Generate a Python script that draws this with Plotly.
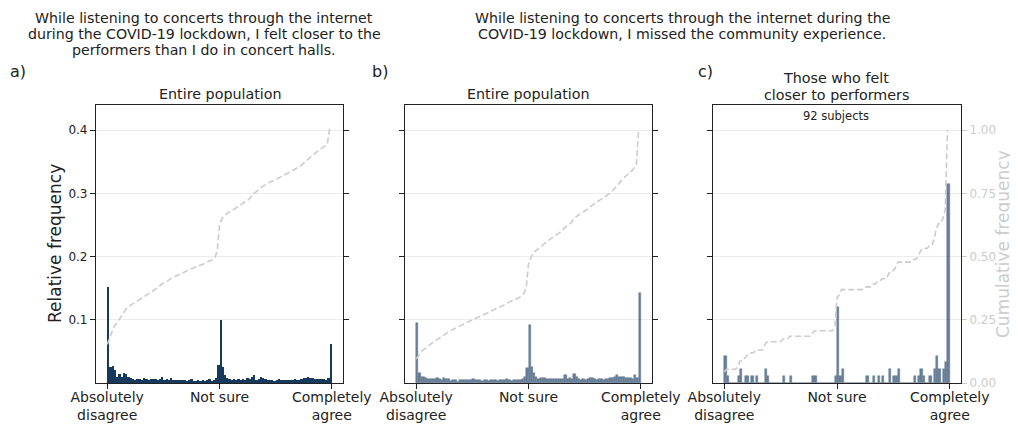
import numpy as np
import plotly.graph_objects as go

# ---------------- data ----------------
bin_edges = list(range(0, 101))  # 100 bins of width 1 on a 0-100 slider

panel_a_freq = [
    0.152, 0.025, 0.027, 0.020, 0.010, 0.014, 0.010, 0.016, 0.014, 0.010,
    0.008, 0.006, 0.004, 0.006, 0.006, 0.005, 0.008, 0.006, 0.004, 0.006,
    0.007, 0.006, 0.004, 0.006, 0.010, 0.004, 0.006, 0.004, 0.008, 0.005,
    0.004, 0.004, 0.004, 0.004, 0.005, 0.003, 0.004, 0.006, 0.003, 0.003,
    0.004, 0.003, 0.005, 0.002, 0.004, 0.006, 0.003, 0.004, 0.008, 0.028,
    0.100, 0.025, 0.012, 0.008, 0.006, 0.004, 0.006, 0.005, 0.007, 0.004,
    0.006, 0.005, 0.008, 0.006, 0.010, 0.013, 0.005, 0.006, 0.009, 0.008,
    0.006, 0.005, 0.004, 0.005, 0.003, 0.004, 0.006, 0.004, 0.005, 0.004,
    0.004, 0.005, 0.005, 0.006, 0.005, 0.004, 0.006, 0.008, 0.008, 0.009,
    0.008, 0.008, 0.007, 0.007, 0.007, 0.006, 0.006, 0.004, 0.008, 0.062,
]

panel_b_freq = [
    0.095, 0.016, 0.010, 0.009, 0.008, 0.006, 0.007, 0.007, 0.006, 0.008,
    0.006, 0.005, 0.008, 0.006, 0.006, 0.003, 0.005, 0.004, 0.002, 0.005,
    0.005, 0.005, 0.004, 0.005, 0.004, 0.006, 0.004, 0.004, 0.005, 0.003,
    0.005, 0.004, 0.003, 0.005, 0.004, 0.004, 0.003, 0.004, 0.005, 0.004,
    0.006, 0.004, 0.003, 0.005, 0.004, 0.004, 0.005, 0.006, 0.010, 0.024,
    0.092, 0.025, 0.016, 0.010, 0.007, 0.008, 0.008, 0.008, 0.006, 0.006,
    0.006, 0.006, 0.006, 0.006, 0.007, 0.006, 0.012, 0.006, 0.008, 0.006,
    0.014, 0.009, 0.006, 0.005, 0.006, 0.005, 0.006, 0.008, 0.008, 0.006,
    0.005, 0.006, 0.006, 0.005, 0.006, 0.006, 0.008, 0.008, 0.010, 0.012,
    0.010, 0.010, 0.009, 0.008, 0.008, 0.008, 0.007, 0.012, 0.008, 0.142,
]

n_subjects_c = 92
panel_c_bins = [0, 1, 6, 7, 9, 10, 12, 14, 18, 19, 26, 29, 39, 40, 49, 50, 51, 52,
                63, 66, 68, 70, 73, 75, 76, 77, 84, 86, 87, 88, 91, 93, 94, 95, 97, 98, 99]
panel_c_counts = [4, 1, 1, 2, 1, 1, 1, 1, 2, 1, 1, 1, 1, 1, 1, 11, 1, 2,
                  1, 1, 1, 1, 2, 1, 1, 2, 1, 1, 2, 1, 1, 2, 4, 2, 2, 3, 29]

tick_vals = [0, 50, 100]
tick_text = ["Absolutely<br>disagree", "Not sure", "Completely<br>agree"]
left_ticks = [0.1, 0.2, 0.3, 0.4]
left_text = ["0.1", "0.2", "0.3", "0.4"]
right_ticks = [0.0, 0.25, 0.5, 0.75, 1.0]
right_text = ["0.00", "0.25", "0.50", "0.75", "1.00"]

title_left_lines = ["While listening to concerts through the internet",
                    "during the COVID-19 lockdown, I felt closer to the",
                    "performers than I do in concert halls."]
title_right_lines = ["While listening to concerts through the internet during the",
                     "COVID-19 lockdown, I missed the community experience."]

# ---------------- derived ----------------
edges = np.array(bin_edges, dtype=float)
centers = (edges[:-1] + edges[1:]) / 2
left_edges = edges[:-1]
c_counts = np.zeros(len(centers))
c_counts[panel_c_bins] = panel_c_counts
panel_c_freq = c_counts / n_subjects_c

freqs = [np.array(panel_a_freq), np.array(panel_b_freq), panel_c_freq]

# the page body has an 8px margin: figure occupies screen 8..1018 x 8..425
OFF = 8
W, H = 1018 - OFF, 425 - OFF
def px(x):
    return (x - OFF) / W
def py(y):
    return 1 - (y - OFF) / H

NAVY = "#163a5e"
FONT = "DejaVu Sans"
TXT = "#222222"
GREY = "#cccccc"

panel_x = [(96, 343), (405, 652), (713, 961)]
y_top, y_bot = 105, 383

fig = go.Figure()

for k in range(3):
    xa = "x" if k == 0 else f"x{k+1}"
    ya = "y" if k == 0 else f"y{2*k+1}"
    ya2 = f"y{2*k+2}"
    op = 1.0 if k == 0 else 0.65
    fig.add_trace(go.Bar(
        x=centers, y=freqs[k], width=1.0,
        marker=dict(color=NAVY, line=dict(color=NAVY, width=0.5 if k else 0)),
        opacity=op, xaxis=xa, yaxis=ya, showlegend=False,
    ))
    fig.add_trace(go.Scatter(
        x=left_edges, y=np.cumsum(freqs[k]), mode="lines",
        line=dict(color=GREY, width=1.6, dash="6px,3px"),
        xaxis=xa, yaxis=ya2, showlegend=False,
    ))

layout = dict(
    width=W, height=H,
    margin=dict(l=0, r=0, t=0, b=0, autoexpand=False),
    plot_bgcolor="white", paper_bgcolor="white",
    font=dict(family=FONT, color=TXT, size=14),
    bargap=0,
)

for k in range(3):
    xname = "xaxis" if k == 0 else f"xaxis{k+1}"
    yname = "yaxis" if k == 0 else f"yaxis{2*k+1}"
    y2name = f"yaxis{2*k+2}"
    xanchor = "x" if k == 0 else f"x{k+1}"
    yanchor = "y" if k == 0 else f"y{2*k+1}"
    x0, x1 = panel_x[k]
    layout[xname] = dict(
        domain=[px(x0), px(x1)], range=[-5, 105], anchor=yanchor, automargin=False,
        tickvals=tick_vals, ticktext=tick_text, ticks="outside", ticklen=5,
        ticklabelstandoff=-4,
        tickcolor=TXT, showline=True, linecolor=TXT, linewidth=1.2, mirror=True,
        showgrid=False, zeroline=False, tickfont=dict(size=14, color=TXT),
    )
    layout[yname] = dict(
        domain=[py(y_bot), py(y_top)], range=[0, 0.44], anchor=xanchor, automargin=False,
        tickvals=left_ticks, ticktext=left_text,
        showticklabels=(k == 0), ticks="outside", ticklen=5, tickcolor=TXT,
        showline=True, linecolor=TXT, linewidth=1.2,
        mirror=("ticks" if k < 2 else True),
        showgrid=True, gridcolor="#ececec", gridwidth=1, zeroline=False,
        tickfont=dict(size=12, color=TXT),
    )
    layout[y2name] = dict(
        overlaying=yanchor, side="right", anchor=xanchor, range=[0, 1.1], automargin=False,
        showgrid=False, zeroline=False, showline=False,
        tickvals=(right_ticks if k == 2 else []), ticktext=right_text,
        showticklabels=(k == 2), ticks=("outside" if k == 2 else ""),
        ticklen=5, tickcolor=GREY, tickfont=dict(size=12, color=GREY),
    )

fig.update_layout(**layout)

ann = []
def add(text, x, y, size, color=TXT, angle=0):
    ann.append(dict(text=text, x=px(x), y=py(y), xref="paper", yref="paper",
                    showarrow=False, xanchor="center", yanchor="middle",
                    font=dict(size=size, color=color, family=FONT), textangle=angle))

for i, line in enumerate(title_left_lines):
    add(line, 204, 18 + 16 * i, 14.2)
for i, line in enumerate(title_right_lines):
    add(line, 682, 18 + 16 * i, 14.2)
add("a)", 18, 72, 16)
add("b)", 380, 72, 16)
add("c)", 705, 72, 16)
add("Entire population", 220, 94, 14.3)
add("Entire population", 528, 94, 14.3)
add("Those who felt", 836, 78, 14.3)
add("closer to performers", 836, 95, 14.3)
add(f"{n_subjects_c} subjects", 836, 116, 11.5)
add("Relative frequency", 55, 244, 17, angle=-90)
add("Cumulative frequency", 1003, 244, 17, color=GREY, angle=-90)

fig.update_layout(annotations=ann)
fig.write_html("out.html")
